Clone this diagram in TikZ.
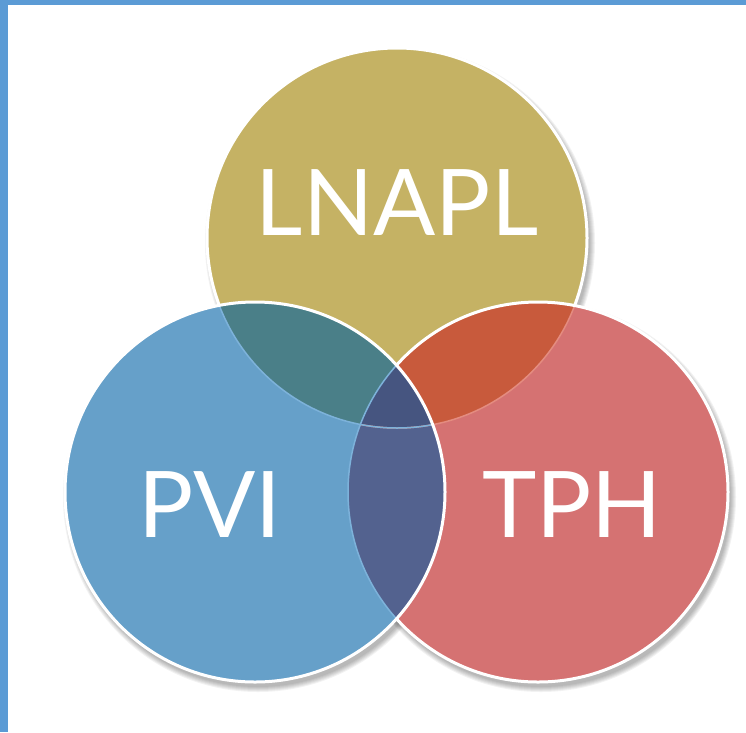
\documentclass[tikz,border=0pt]{standalone}
\usepackage{fontspec}
\setmainfont{Lato}
\usetikzlibrary{calc}
\definecolor{frameblue}{RGB}{91,155,213}
\definecolor{lnaplyellow}{RGB}{197,178,100}
\definecolor{pviblue}{RGB}{102,160,201}
\definecolor{tphred}{RGB}{213,114,114}
\definecolor{lpteal}{RGB}{74,127,136}
\definecolor{ltorange}{RGB}{200,90,60}
\definecolor{ptblue}{RGB}{83,98,143}
\definecolor{lptnavy}{RGB}{70,85,128}
\definecolor{edgeblue}{RGB}{125,178,218}
\definecolor{edgepink}{RGB}{228,140,128}
\newcommand{\rad}{190pt}

\begin{document}
\begin{tikzpicture}[x=1pt,y=-1pt,
	venn text/.style={text=white,font=\fontsize{92}{92}\selectfont,inner sep=0pt,anchor=base},
	rim/.style={white,line width=3pt}]
	\useasboundingbox (0,0) rectangle (746,732);
	\fill[white] (0,0) rectangle (746,732);
	\fill[frameblue] (0,0) rectangle (746,5);
	\fill[frameblue] (0,0) rectangle (8,732);
	\coordinate (L) at (397,238);
	\coordinate (P) at (255,492);
	\coordinate (T) at (538,492);
	\foreach \c in {L,T,P} {
		\foreach \k in {0,...,5} {
			\fill[black,opacity=0.05] ($(\c)+(3,5)$) circle[radius=\rad+\k pt];}}
	\fill[lnaplyellow] (L) circle[radius=\rad];
	\fill[tphred] (T) circle[radius=\rad];
	\fill[pviblue] (P) circle[radius=\rad];
	\begin{scope}
		\clip (P) circle[radius=\rad];
		\fill[ptblue] (T) circle[radius=\rad];
	\end{scope}
	\begin{scope}
		\clip (L) circle[radius=\rad];
		\fill[ltorange] (T) circle[radius=\rad];
		\fill[lpteal] (P) circle[radius=\rad];
		\clip (P) circle[radius=\rad];
		\fill[lptnavy] (T) circle[radius=\rad];
	\end{scope}
	\begin{scope}
		\clip (T) circle[radius=\rad];
		\draw[edgepink,line width=1.5pt] (L) circle[radius=\rad];
	\end{scope}
	\begin{scope}
		\clip (P) circle[radius=\rad];
		\draw[edgeblue,line width=1.5pt] (L) circle[radius=\rad];
		\draw[edgeblue,line width=1.5pt] (T) circle[radius=\rad];
	\end{scope}
	\begin{scope}[even odd rule]
		\clip (0,0) rectangle (746,732) (P) circle[radius=\rad];
		\begin{scope}[even odd rule]
			\clip (0,0) rectangle (746,732) (T) circle[radius=\rad];
			\draw[rim] (L) circle[radius=\rad];
		\end{scope}
		\draw[rim] (T) circle[radius=\rad];
	\end{scope}
	\draw[rim] (P) circle[radius=\rad];
	\node[venn text] (lnapl) at (397,235) {LNAPL};
	\node[venn text] (pvi) at (210,537) {PVI};
	\node[venn text] (tph) at (572,537) {TPH};
\end{tikzpicture}
\end{document}
